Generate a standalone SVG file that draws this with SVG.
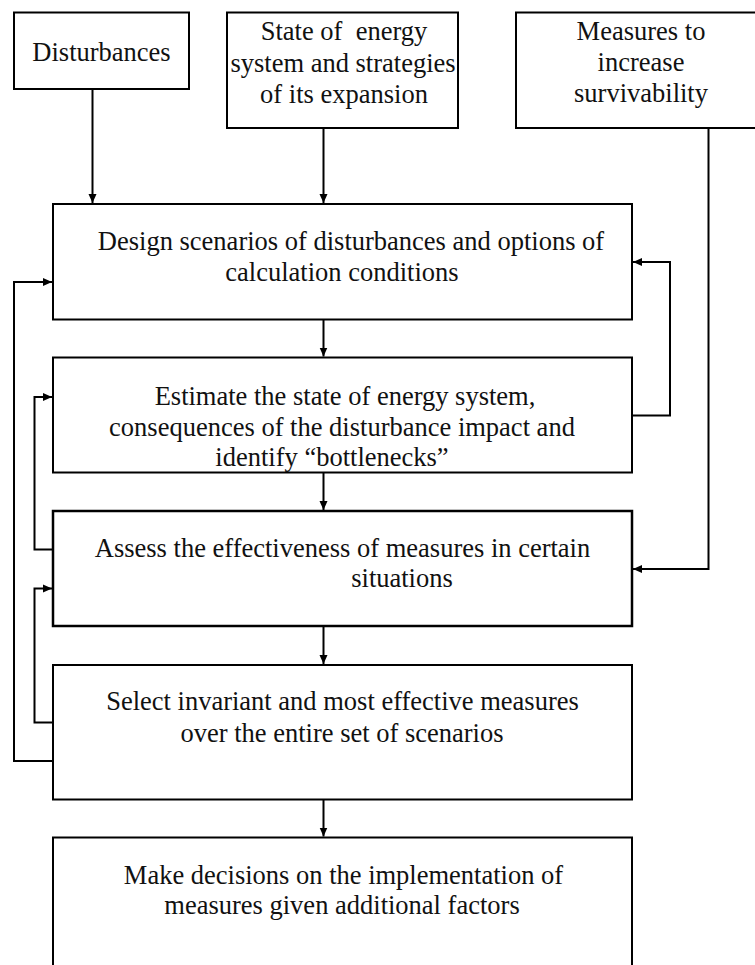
<svg xmlns="http://www.w3.org/2000/svg" width="755" height="965" viewBox="0 0 755 965">
<style>
.box{fill:#fff;stroke:#000;stroke-width:2}
.c{fill:none;stroke:#000;stroke-width:2}
</style>
<defs>
<marker id="ah" markerUnits="userSpaceOnUse" markerWidth="10" markerHeight="10" viewBox="0 0 10 10" refX="9" refY="5" orient="auto">
<path d="M0,1 L9,5 L0,9 Z" fill="#000"/>
</marker>
</defs>
<rect width="755" height="965" fill="#fff"/>
<g id="connectors">
<path class="c" d="M92.5,89 V203" marker-end="url(#ah)"/>
<path class="c" d="M323.5,128 V203" marker-end="url(#ah)"/>
<path class="c" d="M323.5,319.5 V356.5" marker-end="url(#ah)"/>
<path class="c" d="M323.5,472.5 V510" marker-end="url(#ah)"/>
<path class="c" d="M323.5,626 V664" marker-end="url(#ah)"/>
<path class="c" d="M323.5,799.5 V836.5" marker-end="url(#ah)"/>
<path class="c" d="M708.5,128 V569 H633" marker-end="url(#ah)"/>
<path class="c" d="M632,415.5 H670 V262 H633" marker-end="url(#ah)"/>
<path class="c" d="M53,549.5 H34.5 V397 H52" marker-end="url(#ah)"/>
<path class="c" d="M53,722.5 H34.5 V588.5 H52" marker-end="url(#ah)"/>
<path class="c" d="M53,761 H14 V282 H52" marker-end="url(#ah)"/>
</g>
<g font-family="Liberation Serif" font-size="26.5" text-anchor="middle" fill="#111">
<g id="disturbances">
<rect class="box" x="14" y="12.5" width="175" height="76.5"/>
<text x="101.5" y="61">Disturbances</text>
</g>
<g id="state">
<rect class="box" x="227" y="12.5" width="231" height="115.5"/>
<text x="344" y="39.5" xml:space="preserve">State of  energy</text>
<text x="343" y="71.5">system and strategies</text>
<text x="344" y="102.5">of its expansion</text>
</g>
<g id="measures">
<rect class="box" x="516" y="12.5" width="260" height="115.5"/>
<text x="641" y="39.5">Measures to</text>
<text x="641" y="71">increase</text>
<text x="641" y="101.5">survivability</text>
</g>
<g id="design">
<rect class="box" x="53" y="204" width="579" height="115.5"/>
<text x="351" y="250">Design scenarios of disturbances and options of</text>
<text x="342" y="281">calculation conditions</text>
</g>
<g id="estimate">
<rect class="box" x="53" y="357.5" width="579" height="115"/>
<text x="345" y="405">Estimate the state of energy system,</text>
<text x="342" y="436">consequences of the disturbance impact and</text>
<text x="332" y="465.5">identify “bottlenecks”</text>
</g>
<g id="assess">
<rect class="box" x="53" y="511" width="579" height="115" style="stroke-width:2.5"/>
<text x="342.5" y="557">Assess the effectiveness of measures in certain</text>
<text x="402" y="587">situations</text>
</g>
<g id="select">
<rect class="box" x="53" y="665" width="579" height="134.5"/>
<text x="342.5" y="710">Select invariant and most effective measures</text>
<text x="342" y="741.5">over the entire set of scenarios</text>
</g>
<g id="decide">
<rect class="box" x="53" y="837.5" width="579" height="140"/>
<text x="343.5" y="883.5">Make decisions on the implementation of</text>
<text x="342" y="913.5">measures given additional factors</text>
</g>
</g>
</svg>
